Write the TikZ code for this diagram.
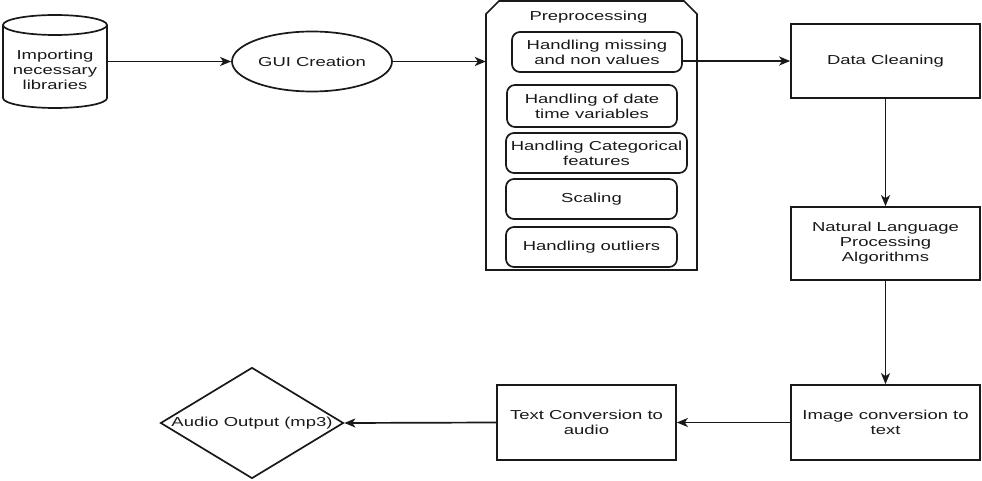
\documentclass[tikz,border=0pt]{standalone}
\usepackage{fontspec}
\setmainfont{Liberation Sans}[FakeStretch=1.42]
\usetikzlibrary{shapes.geometric,arrows.meta}
\begin{document}
\begin{tikzpicture}[x=1pt,y=-1pt,
  every node/.style={font=\fontsize{13}{15}\selectfont, text=black!90},
  ln/.style={line width=1.7pt, draw=black!90},
  box/.style={ln, rectangle, inner sep=0pt, align=center},
  rbox/.style={box, rounded corners=8pt},
  arr/.style={ln, -{Stealth[length=11pt,width=9pt,inset=3pt]}}]
\useasboundingbox (0,0) rectangle (982,481);
% cylinder
\node (cyl) [inner sep=0pt, minimum width=104pt, minimum height=93pt] at (55,61.5) {};
\draw[ln] (3,25) -- (3,98) arc[start angle=180, end angle=0, x radius=52, y radius=10] -- (107,25);
\draw[ln] (55,25) ellipse [x radius=52, y radius=10];
\node (cyltext) [align=center] at (55,69.5) {Importing\\necessary\\libraries};
% GUI ellipse
\node (gui) [ln, ellipse, inner sep=0pt, minimum width=160pt, minimum height=60pt] at (312,61.5) {GUI Creation};
% preprocessing container
\node (prep) [inner sep=0pt, minimum width=211pt, minimum height=269pt] at (591.5,135.5) {};
\draw[ln] (486,270) -- (486,14) -- (499,1) -- (684,1) -- (697,14) -- (697,270) -- cycle;
\node (preptitle) at (588.5,17) {Preprocessing};
\node (m1) [rbox, minimum width=170pt, minimum height=40pt] at (597,52) {Handling missing\\and non values};
\node (m2) [rbox, minimum width=170pt, minimum height=42pt] at (592,106) {Handling of date\\time variables};
\node (m3) [rbox, minimum width=181pt, minimum height=40pt] at (596.5,153) {Handling Categorical\\features};
\node (m4) [rbox, minimum width=171pt, minimum height=40pt] at (591.5,199) {Scaling};
\node (m5) [rbox, minimum width=171pt, minimum height=40pt] at (591.5,247) {Handling outliers};
% right column
\node (dc) [box, minimum width=189pt, minimum height=74pt] at (885.5,61) {Data Cleaning};
\node (nlp) [box, minimum width=189pt, minimum height=73pt] at (885.5,243.5) {Natural Language\\Processing\\Algorithms};
\node (img) [box, minimum width=189pt, minimum height=75pt] at (885.5,422.5) {Image conversion to\\text};
\node (tc) [box, minimum width=179pt, minimum height=75pt] at (586.5,422.5) {Text Conversion to\\audio};
\node (dia) [ln, diamond, inner sep=0pt, minimum width=183pt, minimum height=111pt] at (252,423) {};
\node (diatext) at (dia.center) {Audio Output (mp3)};
% connectors
\draw[arr] (cyl.east) -- (gui.west);
\draw[arr] (gui.east) -- (gui.east -| prep.west);
\draw[arr] (m1.east |- dc.west) -- (dc.west);
\draw[arr] (dc.south) -- (nlp.north);
\draw[arr] (nlp.south) -- (img.north);
\draw[arr] (img.west) -- (tc.east);
\draw[arr] (tc.west) -- (dia.east);
\end{tikzpicture}
\end{document}
